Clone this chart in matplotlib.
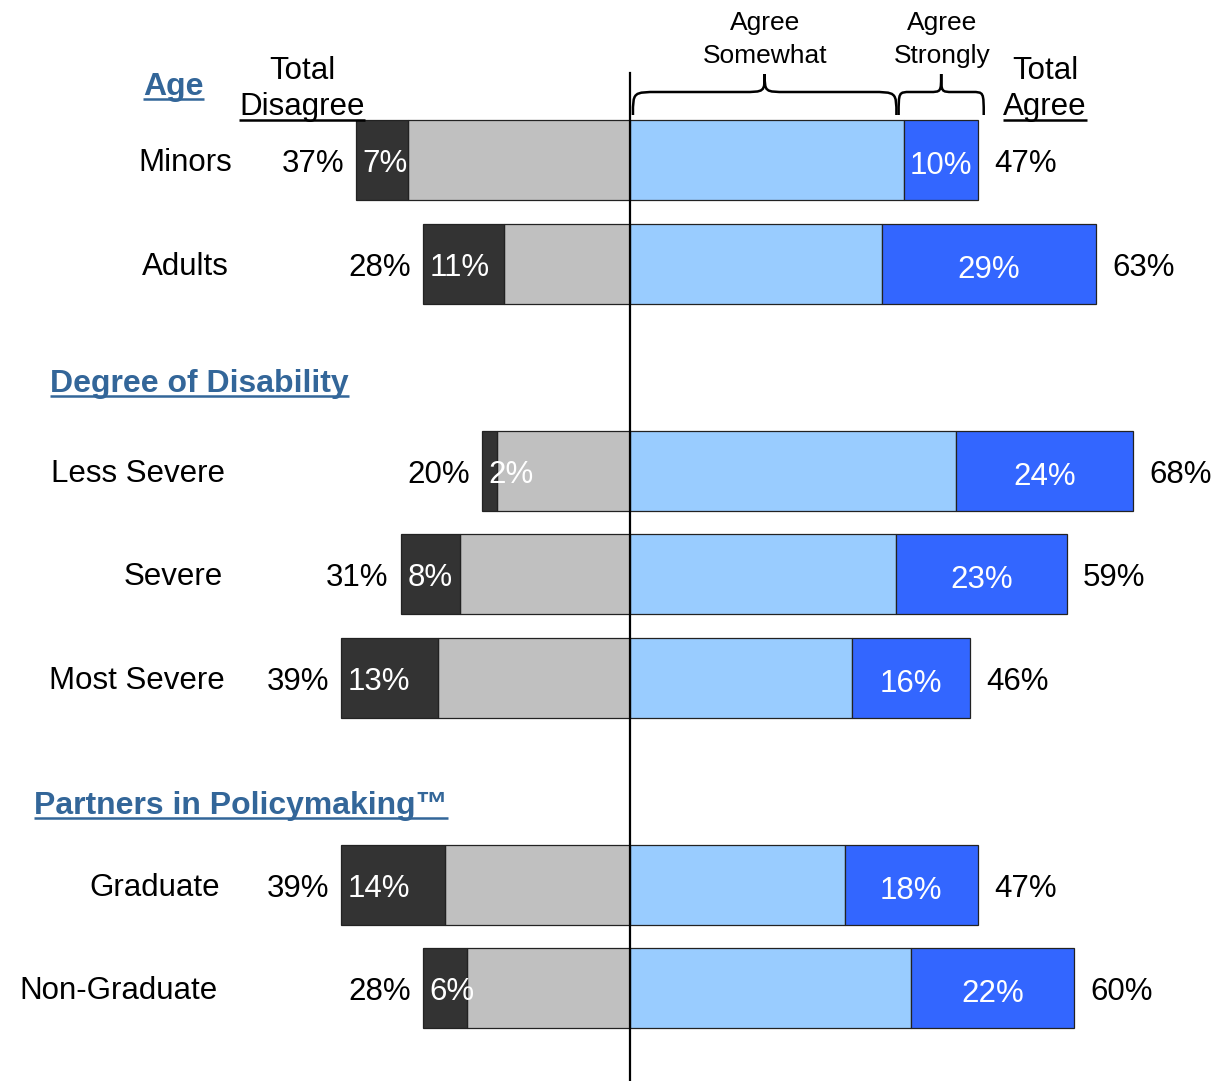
import matplotlib
matplotlib.use('Agg')
import matplotlib.pyplot as plt
from matplotlib.path import Path
from matplotlib.patches import PathPatch

plt.rcParams['font.family'] = ['Liberation Sans', 'DejaVu Sans']

# data
groups = ['Age', 'Degree of Disability', 'Partners in Policymaking\u2122']
rows = ['Minors', 'Adults', 'Less Severe', 'Severe', 'Most Severe', 'Graduate', 'Non-Graduate']
row_group = [0, 0, 1, 1, 1, 2, 2]
disagree_total = [37, 28, 20, 31, 39, 39, 28]
disagree_strong = [7, 11, 2, 8, 13, 14, 6]
agree_total = [47, 63, 68, 59, 46, 47, 60]
agree_strong = [10, 29, 24, 23, 16, 18, 22]

c_dark = '#333333'
c_gray = '#C0C0C0'
c_light = '#99CCFF'
c_blue = '#3366FF'
c_head = '#336699'

W, H = 1230, 1081
X0, SX = 630, 7.4      # center pixel, pixels per percent
Y0, SY = 160, 103.5    # first row pixel, pixels per row


def px(x):
    return (x - X0) / SX


def py(y):
    return (y - Y0) / SY


fig = plt.figure(figsize=(W / 100, H / 100), dpi=100)
ax = fig.add_axes([0, 0, 1, 1])
ax.set_xlim(px(0), px(W))
ax.set_ylim(py(H), py(0))
ax.axis('off')

pos = [i + g for i, g in enumerate(row_group)]
somewhat_dis = [t - s for t, s in zip(disagree_total, disagree_strong)]
somewhat_agr = [t - s for t, s in zip(agree_total, agree_strong)]
bh = 80 / SY
ek = dict(height=bh, edgecolor='#222222', linewidth=0.9, zorder=2)

ax.barh(pos, [-v for v in somewhat_dis], color=c_gray, **ek)
ax.barh(pos, [-v for v in disagree_strong], left=[-v for v in somewhat_dis], color=c_dark, **ek)
ax.barh(pos, somewhat_agr, color=c_light, **ek)
ax.barh(pos, agree_strong, left=somewhat_agr, color=c_blue, **ek)

fs = 22.5
label_right = [232, 229, 225, 223, 225, 220, 218]
for i, p in enumerate(pos):
    ax.text(px(label_right[i]), p + 0.03, rows[i], ha='right', va='center', fontsize=fs)
    ax.text(-disagree_total[i] - 1.6, p + 0.04, f'{disagree_total[i]}%', ha='right', va='center', fontsize=fs)
    ax.text(-disagree_total[i] + 0.9, p + 0.04, f'{disagree_strong[i]}%', ha='left', va='center',
            fontsize=fs, color='white', zorder=3)
    ax.text(somewhat_agr[i] + agree_strong[i] / 2, p + 0.06, f'{agree_strong[i]}%', ha='center', va='center',
            fontsize=fs, color='white', zorder=3)
    ax.text(agree_total[i] + 2.2, p + 0.04, f'{agree_total[i]}%', ha='left', va='center', fontsize=fs)

# center line
ax.plot([0, 0], [py(73), py(H)], color='black', lw=1.6, zorder=4)

fig.canvas.draw()
rend = fig.canvas.get_renderer()
inv = ax.transData.inverted()


def underline(t, ybase, color):
    bb = t.get_window_extent(renderer=rend)
    xa = inv.transform((bb.x0, 0))[0]
    xb = inv.transform((bb.x1, 0))[0]
    ax.plot([xa, xb], [ybase, ybase], color=color, lw=1.8, solid_capstyle='butt')


# group headers
head_left = [143, 50, 34]
head_base = [95, 392, 814]
for g, name in enumerate(groups):
    t = ax.text(px(head_left[g]), py(head_base[g]), name, ha='left', va='baseline',
                fontsize=23, fontweight='bold', color=c_head)
    underline(t, py(head_base[g] + 4), c_head)

# column headers
ax.text(px(302), py(79), 'Total', ha='center', va='baseline', fontsize=fs)
t = ax.text(px(302), py(115), 'Disagree', ha='center', va='baseline', fontsize=fs)
underline(t, py(120), 'black')
ax.text(px(1045), py(79), 'Total', ha='center', va='baseline', fontsize=fs)
t = ax.text(px(1045), py(115), 'Agree', ha='center', va='baseline', fontsize=fs)
underline(t, py(120), 'black')

ax.text(somewhat_agr[0] / 2 - 0.3, py(30), 'Agree', ha='center', va='baseline', fontsize=19)
ax.text(somewhat_agr[0] / 2 - 0.3, py(63), 'Somewhat', ha='center', va='baseline', fontsize=19)
ax.text(agree_total[0] - 4.8, py(30), 'Agree', ha='center', va='baseline', fontsize=19)
ax.text(agree_total[0] - 4.8, py(63), 'Strongly', ha='center', va='baseline', fontsize=19)


def brace(x0, x1, r, rt):
    yb, ym, yt = py(115), py(92), py(74)
    xm = (x0 + x1) / 2
    verts = [(x0, yb), (x0, ym), (x0, ym), (x0 + r, ym),
             (xm - rt, ym),
             (xm, ym), (xm, ym), (xm, yt),
             (xm, ym), (xm, ym), (xm + rt, ym),
             (x1 - r, ym),
             (x1, ym), (x1, ym), (x1, yb)]
    codes = [Path.MOVETO, Path.CURVE4, Path.CURVE4, Path.CURVE4,
             Path.LINETO,
             Path.CURVE4, Path.CURVE4, Path.CURVE4,
             Path.CURVE4, Path.CURVE4, Path.CURVE4,
             Path.LINETO,
             Path.CURVE4, Path.CURVE4, Path.CURVE4]
    ax.add_patch(PathPatch(Path(verts, codes), fill=False, lw=1.8, edgecolor='black', zorder=5))


brace(0.4, somewhat_agr[0] - 1.0, 3.5, 3.0)
brace(somewhat_agr[0] - 0.7, agree_total[0] + 0.8, 1.6, 1.6)

fig.savefig('out.png', dpi=100)
